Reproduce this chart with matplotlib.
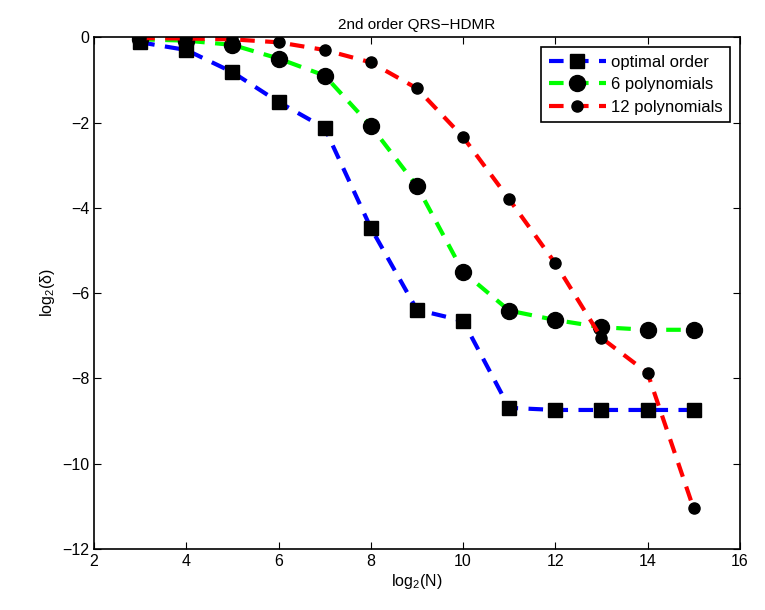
import numpy as np
import matplotlib
matplotlib.use('Agg')
import matplotlib.pyplot as plt

plt.rcParams['font.family'] = ['Liberation Sans', 'DejaVu Sans']
plt.rcParams['mathtext.fontset'] = 'custom'
plt.rcParams['mathtext.rm'] = 'Liberation Sans'
plt.rcParams['mathtext.it'] = 'Liberation Sans'

log2N = [3, 4, 5, 6, 7, 8, 9, 10, 11, 12, 13, 14, 15]
optimal = [-0.12, -0.3, -0.82, -1.52, -2.13, -4.47, -6.39, -6.65, -8.69, -8.74, -8.74, -8.74, -8.74]
poly6 = [-0.05, -0.08, -0.18, -0.5, -0.9, -2.08, -3.49, -5.5, -6.41, -6.63, -6.8, -6.86, -6.86]
poly12 = [-0.02, -0.03, -0.05, -0.12, -0.3, -0.59, -1.2, -2.34, -3.8, -5.3, -7.05, -7.87, -11.05]

fig = plt.figure(figsize=(7.65, 6.1), dpi=100)
ax = fig.add_axes([0.123, 0.1, 0.844, 0.839])

dash = (0, (3.5, 2.5))
ax.plot(log2N, optimal, color='#0000ff', linestyle=dash, linewidth=3,
        marker='s', markersize=10, markerfacecolor='k', markeredgecolor='k',
        label='optimal order')
ax.plot(log2N, poly6, color='#00ff00', linestyle=dash, linewidth=3,
        marker='o', markersize=11.5, markerfacecolor='k', markeredgecolor='k',
        label='6 polynomials')
ax.plot(log2N, poly12, color='#ff0000', linestyle=dash, linewidth=3,
        marker='o', markersize=8, markerfacecolor='k', markeredgecolor='k',
        label='12 polynomials')

ax.set_xlim(2, 16)
ax.set_ylim(-12, 0)
ax.set_xticks(range(2, 17, 2))
ax.set_yticks(range(-12, 1, 2))
ax.set_yticklabels(['\u221212', '\u221210', '\u22128', '\u22126', '\u22124', '\u22122', '0'])
ax.tick_params(direction='in', top=True, right=True, labelsize=11.5, length=5)
for s in ax.spines.values():
    s.set_linewidth(1.2)

ax.set_title('2nd order QRS\u2212HDMR', fontsize=11)
ax.set_xlabel('log$_2$(N)', fontsize=11.5, labelpad=2)
ax.set_ylabel('log$_2$(\u03b4)', fontsize=11.5)

leg = ax.legend(loc='upper right', fontsize=12, handlelength=3.4,
                fancybox=False, framealpha=1, edgecolor='k',
                borderpad=0.45, labelspacing=0.45, handletextpad=0.3,
                borderaxespad=0.6)
leg.get_frame().set_linewidth(1.2)

fig.savefig('out.png')
